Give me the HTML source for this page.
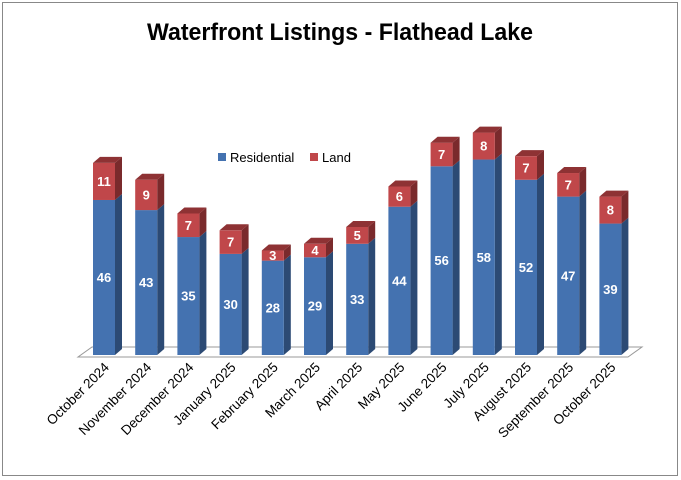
<!DOCTYPE html>
<html><head><meta charset="utf-8"><style>
body{margin:0;background:#fff;}
svg{display:block;font-family:"Liberation Sans",Arial,sans-serif;}
</style></head><body>
<svg id="chart" width="681" height="480">
<rect x="2.5" y="2.5" width="675" height="473" fill="#fff" stroke="#888"/>
<text x="340" y="40" text-anchor="middle" font-size="24" font-weight="bold" fill="#000" textLength="386" lengthAdjust="spacingAndGlyphs">Waterfront Listings - Flathead Lake</text>
<polygon points="78,357 628,357 642,347 92,347" fill="#fff" stroke="#999"/>
<g id="bars"></g>
<g id="labels"></g>
<rect x="218" y="153" width="8" height="8" fill="#4472b0"/>
<text x="230" y="162" font-size="13" fill="#000">Residential</text>
<rect x="310" y="153" width="8" height="8" fill="#c0474a"/>
<text x="322" y="162" font-size="13" fill="#000">Land</text>
</svg>
<script>
const categories=["October 2024","November 2024","December 2024","January 2025","February 2025","March 2025","April 2025","May 2025","June 2025","July 2025","August 2025","September 2025","October 2025"];
const residential=[46,43,35,30,28,29,33,44,56,58,52,47,39];
const land=[11,9,7,7,3,4,5,6,7,8,7,7,8];
const NS="http://www.w3.org/2000/svg";
const base=355, ppu=3.37, x0=93, step=42.2, bw=22, dx=7, dy=6;
function xPos(i){return x0+i*step;}
function yPos(v){return base-v*ppu;}
function mk(t,a,p){const e=document.createElementNS(NS,t);for(const k in a)e.setAttribute(k,a[k]);p.appendChild(e);return e;}
const bars=document.getElementById('bars'),labels=document.getElementById('labels');
function seg(x,y1,y2,front,side,top,val,name){
  const g=mk('g',{},bars);
  
  
  mk('polygon',{points:`${x+bw},${y1} ${x+bw+dx},${y1-dy} ${x+bw+dx},${y2-dy} ${x+bw},${y2}`,fill:side},g);
  mk('rect',{x:x,y:y1,width:bw,height:y2-y1,fill:front},g);
  if(top) mk('polygon',{points:`${x},${y1} ${x+dx},${y1-dy} ${x+bw+dx},${y1-dy} ${x+bw},${y1}`,fill:top},g);
  const t=mk('text',{x:x+bw/2,y:(y1+y2)/2+4.5,'text-anchor':'middle','font-size':13,'font-weight':'bold',fill:'#fff'},g);
  t.textContent=val;
}
categories.forEach((c,i)=>{
  const x=xPos(i), r=residential[i], l=land[i];
  seg(x,yPos(r),yPos(0),'#4472b0','#2c4a74',null,r,'bar-residential-'+i);
  seg(x,yPos(r+l),yPos(r),'#c0474a','#7a2a2c','#8e3234',l,'bar-land-'+i);
  const cx=x+bw/2+6, cy=368;
  const t=mk('text',{x:cx,y:cy,'text-anchor':'end','font-size':13.5,fill:'#000',transform:`rotate(-45 ${cx} ${cy})`},labels);
  
  
  t.textContent=c;
});
</script>
</body></html>
